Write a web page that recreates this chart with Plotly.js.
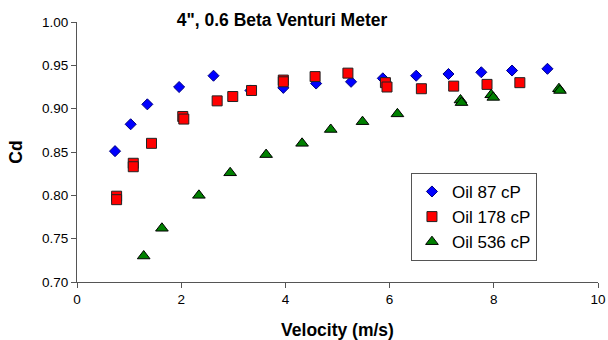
<!DOCTYPE html>
<html>
<head>
<meta charset="utf-8">
<script src="https://cdn.plot.ly/plotly-3.0.1.min.js"></script>
<style>
html,body{margin:0;padding:0;background:#fff;}
#chart{width:608px;height:340px;}
</style>
</head>
<body>
<div id="chart"></div>
<script>
// Oil 87 cP
const velocity87 = [0.73, 1.03, 1.35, 1.96, 2.62, 3.33, 3.96, 4.59, 5.26, 5.87, 6.51, 7.13, 7.76, 8.35, 9.03];
const cd87       = [0.851, 0.882, 0.905, 0.925, 0.938, 0.921, 0.924, 0.929, 0.931, 0.935, 0.938, 0.940, 0.942, 0.944, 0.946];
// Oil 178 cP
const velocity178 = [0.76, 0.76, 1.08, 1.08, 1.43, 2.03, 2.05, 2.69, 2.99, 3.35, 3.96, 3.96, 4.57, 5.20, 5.92, 5.95, 6.61, 7.23, 7.87, 8.50];
const cd178       = [0.799, 0.795, 0.837, 0.833, 0.860, 0.891, 0.888, 0.909, 0.914, 0.921, 0.933, 0.931, 0.937, 0.941, 0.930, 0.925, 0.923, 0.926, 0.928, 0.930];
// Oil 536 cP
const velocity536 = [1.28, 1.63, 2.34, 2.94, 3.63, 4.32, 4.87, 5.48, 6.15, 7.36, 7.38, 7.95, 7.99, 9.25, 9.27];
const cd536       = [0.730, 0.762, 0.800, 0.826, 0.847, 0.860, 0.876, 0.885, 0.894, 0.910, 0.907, 0.916, 0.913, 0.923, 0.921];

const seriesNames = ["Oil 87 cP", "Oil 178 cP", "Oil 536 cP"];
const xTickVals = [0, 2, 4, 6, 8, 10];
const yTickVals = [0.70, 0.75, 0.80, 0.85, 0.90, 0.95, 1.00];
const yTickText = ["0.70", "0.75", "0.80", "0.85", "0.90", "0.95", "1.00"];

const FONT = "'Liberation Sans', Arial, sans-serif";
const AXIS_COLOR = "#555555";

const traces = [
  {x: velocity87, y: cd87, name: seriesNames[0], type: "scatter", mode: "markers",
   marker: {symbol: "diamond", size: 8.5, color: "#0000FF", line: {color: "#000080", width: 1}}},
  {x: velocity178, y: cd178, name: seriesNames[1], type: "scatter", mode: "markers",
   marker: {symbol: "square", size: 10, color: "#FF0000", line: {color: "#222222", width: 1}}},
  {x: velocity536, y: cd536, name: seriesNames[2], type: "scatter", mode: "markers",
   marker: {symbol: "triangle-up", size: 11, color: "#008000", line: {color: "#000000", width: 1}}}
];

const layout = {
  width: 608, height: 340,
  margin: {l: 77, r: 10, t: 22, b: 57.5, pad: 0},
  paper_bgcolor: "#ffffff", plot_bgcolor: "#ffffff",
  font: {family: FONT, color: "#000000", size: 13.5},
  title: {text: "4\", 0.6 Beta Venturi Meter", font: {family: FONT, size: 17.5, color: "#000000", weight: "bold"},
          xref: "container", yref: "container", x: 282/608, xanchor: "center", y: 1 - 19.5/340, yanchor: "middle"},
  showlegend: true,
  legend: {x: 0.641, y: 0.4195, xanchor: "left", yanchor: "top", bgcolor: "#ffffff",
           bordercolor: "#555555", borderwidth: 1, font: {family: FONT, size: 17, color: "#000000"}},
  xaxis: {range: [0, 10], tickvals: xTickVals, ticktext: xTickVals.map(String), showgrid: false, zeroline: false,
          showline: true, linecolor: AXIS_COLOR, linewidth: 1, ticks: "outside", ticklen: 5, tickcolor: AXIS_COLOR,
          tickfont: {family: FONT, size: 13.5, color: "#000000"}, fixedrange: true,
          title: {text: "Velocity (m/s)", font: {family: FONT, size: 17.5, weight: "bold", color: "#000000"}}},
  yaxis: {range: [0.70, 1.00], tickvals: yTickVals, ticktext: yTickText, showgrid: false, zeroline: false,
          showline: true, linecolor: AXIS_COLOR, linewidth: 1, ticks: "outside", ticklen: 5, tickcolor: AXIS_COLOR,
          tickfont: {family: FONT, size: 13.5, color: "#000000"}, fixedrange: true,
          title: {text: "Cd", standoff: 14, font: {family: FONT, size: 17.5, weight: "bold", color: "#000000"}}}
};

Plotly.newPlot("chart", traces, layout, {displayModeBar: false, staticPlot: true});
</script>
</body>
</html>
